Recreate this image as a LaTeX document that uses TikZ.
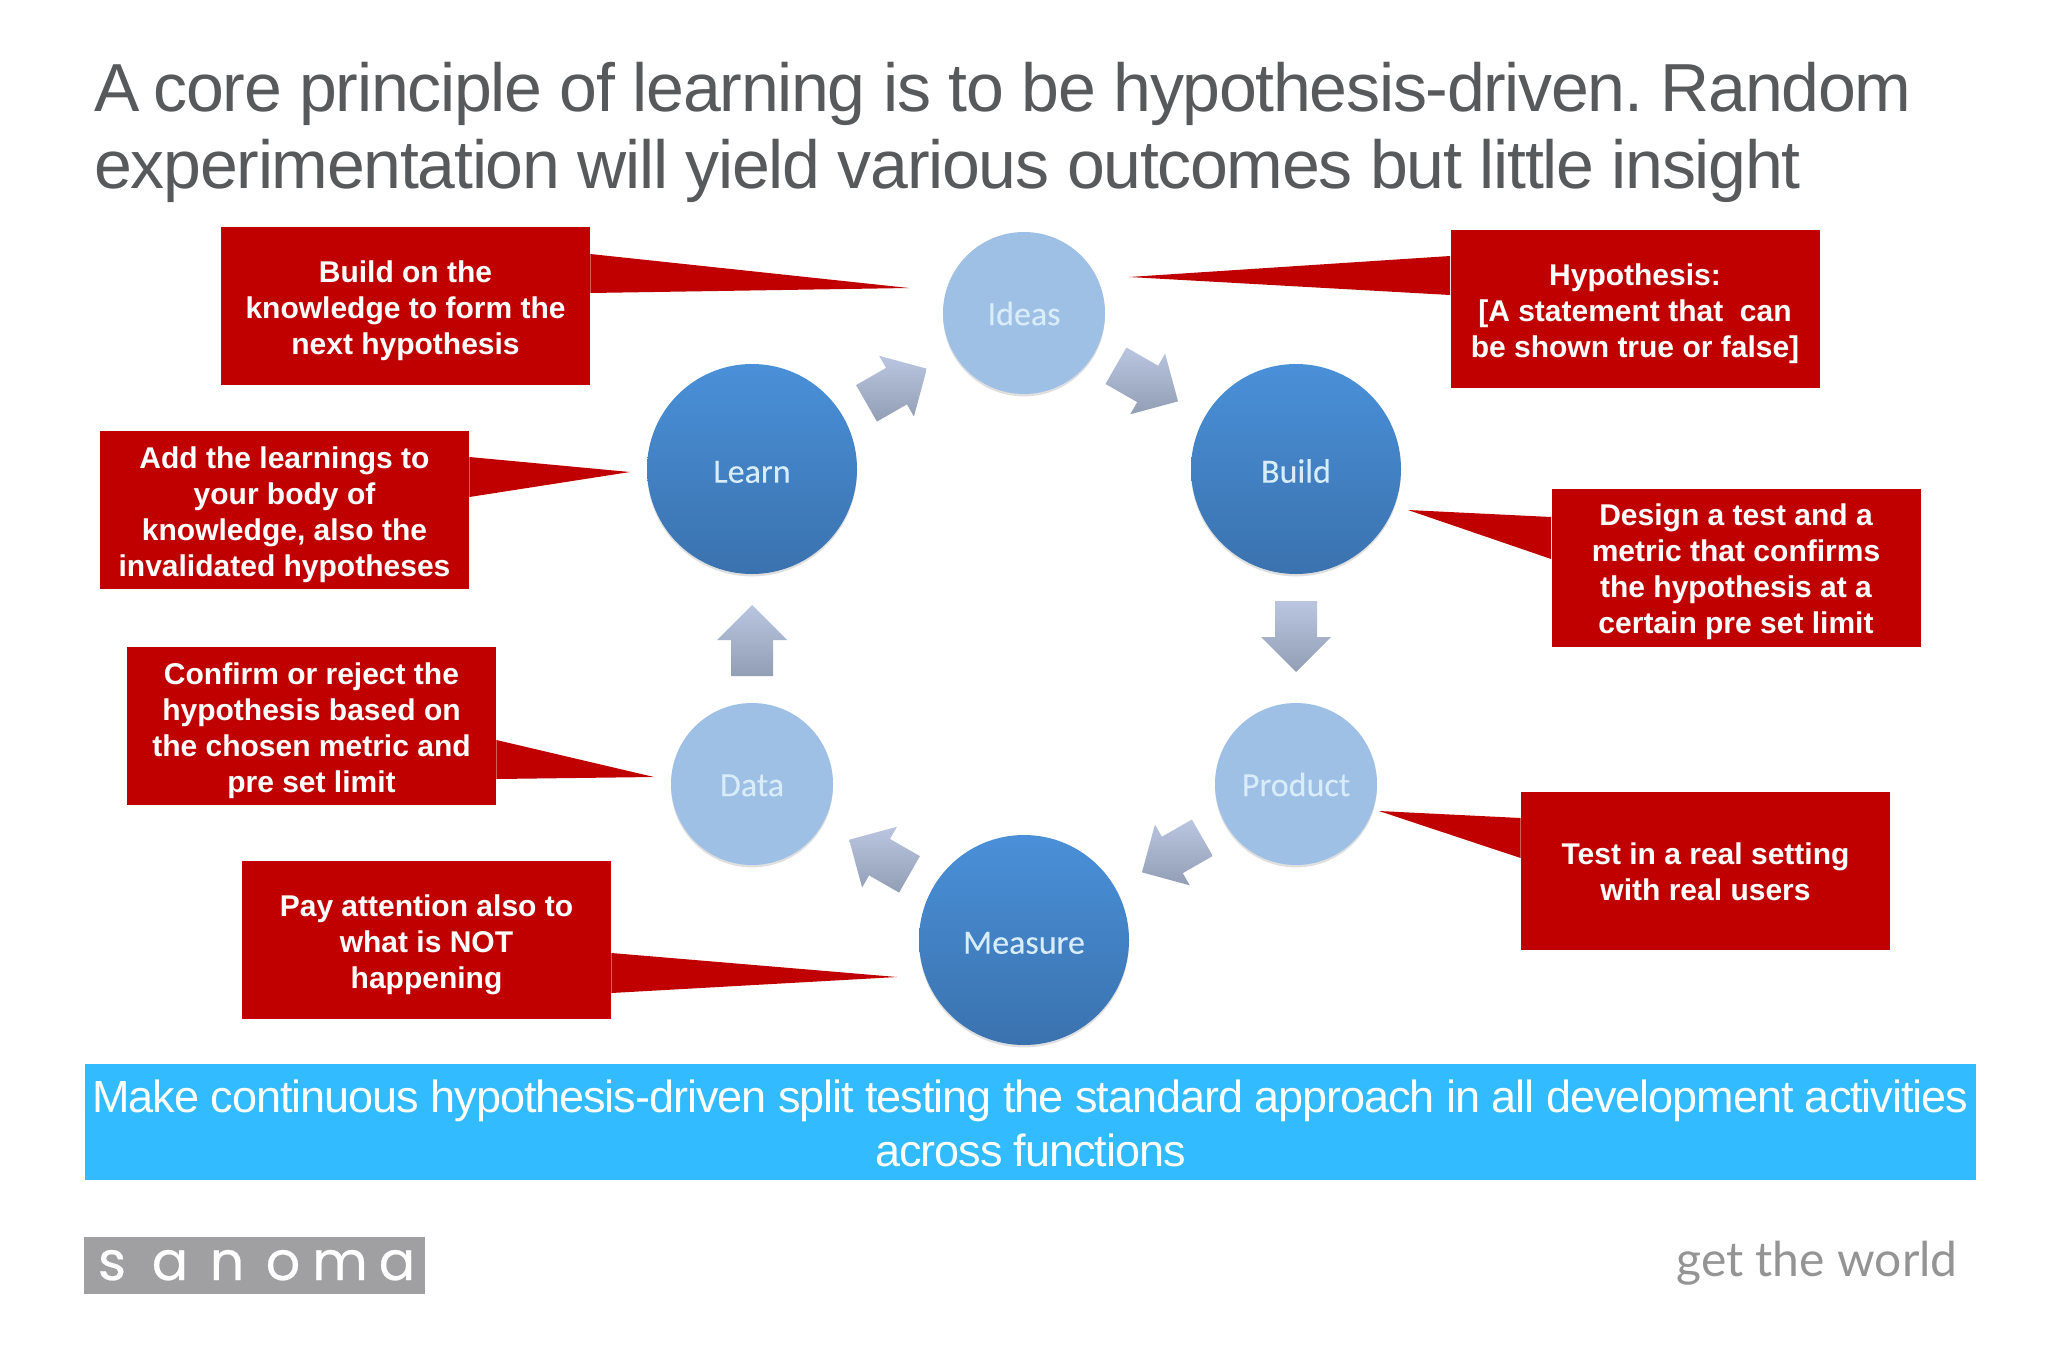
\documentclass[tikz,border=0pt]{standalone}
\usepackage{fontspec}
\setmainfont{Liberation Sans}
\newfontfamily\circfont[FakeBold=0.15]{Carlito}
\newfontfamily\logofont[FakeBold=0.4]{Poppins}
\newfontfamily\tagfont{Lato}
\usetikzlibrary{calc,shadows}
\definecolor{calloutred}{HTML}{C00000}
\definecolor{titlegrey}{HTML}{58595B}
\definecolor{barblue}{HTML}{33BBFF}
\definecolor{darktop}{HTML}{4A90D8}
\definecolor{darkbot}{HTML}{3A72AE}
\definecolor{lightfill}{HTML}{9FC0E5}
\definecolor{arrowtop}{HTML}{BAC6E0}
\definecolor{arrowbot}{HTML}{929EB4}
\definecolor{logogrey}{HTML}{A0A0A2}
\definecolor{circtext}{HTML}{D8ECFA}
\tikzset{
  bigcirc/.style={circle,minimum size=105pt,inner sep=0pt,top color=darktop,bottom color=darkbot,
    drop shadow={shadow xshift=0pt,shadow yshift=-1.2pt,opacity=.25,fill=gray},
    text=circtext,text height=14pt,text depth=0.3pt,font=\circfont\fontsize{17}{20}\selectfont},
  smallcirc/.style={circle,minimum size=81pt,inner sep=0pt,fill=lightfill,
    drop shadow={shadow xshift=0pt,shadow yshift=-1.2pt,opacity=.25,fill=gray},
    text=circtext,text height=12.5pt,text depth=0.3pt,font=\circfont\fontsize{17}{20}\selectfont},
  callout/.style={rectangle,fill=calloutred,text=white,minimum width=184.5pt,minimum height=79pt,
    inner sep=0pt,align=center,font=\fontsize{15}{18}\selectfont\bfseries},
  pointer/.style={fill=calloutred},
  blockarrow/.style={top color=arrowtop,bottom color=arrowbot,draw=none},
  logoletter/.style={text=white,inner sep=0pt,anchor=base,font=\logofont\fontsize{27}{27}\selectfont}
}
% vertical struts that even out the callout text block
\newcommand{\calltop}{\rule{0pt}{16pt}}
\newcommand{\callbot}{\rule[-4pt]{0pt}{4pt}}
% block arrow from node #1 to node #3; #2, #4 = clearances from the node centres
\newcommand{\blockarrowdraw}[4]{%
  \coordinate (T) at ($(#1)!#2!(#3)$);
  \coordinate (H) at ($(#3)!#4!(#1)$);
  \coordinate (S) at ($(H)!17.5pt!(T)$);
  \shade[blockarrow]
    ($(T)!10.5pt!90:(H)$) -- ($(S)!10.5pt!-90:(T)$) -- ($(S)!17.5pt!-90:(T)$) -- (H)
    -- ($(S)!17.5pt!90:(T)$) -- ($(S)!10.5pt!90:(T)$) -- ($(T)!10.5pt!-90:(H)$) -- cycle;
}
\begin{document}
\frenchspacing
\begin{tikzpicture}[x=0.5pt,y=-0.5pt]
\useasboundingbox (0,0) rectangle (2048,1365);
\fill[white] (0,0) rectangle (2048,1365);

\node[anchor=north west,inner sep=0pt,align=left,text=titlegrey,
      font=\fontsize{34}{38.5}\selectfont\addfontfeatures{LetterSpace=-1.9}] (title) at (94,62)
  {A\kern-2pt{} core principle of learning is to be hypothesis-driven. Random\\experimentation will yield various outcomes but little insight};

% cycle nodes
\node[smallcirc] (ideas) at (1024,313) {Ideas};
\node[bigcirc] (build) at (1296,469) {Build};
\node[smallcirc] (product) at (1296,784) {Product};
\node[bigcirc] (measure) at (1024,940) {Measure};
\node[smallcirc] (data) at (752,784) {Data};
\node[bigcirc] (learn) at (752,469) {Learn};

% block arrows
\blockarrowdraw{ideas}{53pt}{build}{68pt}
\blockarrowdraw{build}{66pt}{product}{56pt}
\blockarrowdraw{product}{54pt}{measure}{68pt}
\blockarrowdraw{measure}{66pt}{data}{56pt}
\blockarrowdraw{data}{54pt}{learn}{68pt}
\blockarrowdraw{learn}{66pt}{ideas}{56pt}

% callouts
\node[callout] (c1) at (405.5,306) {\calltop Build on the\\knowledge to form the\\next hypothesis\callbot};
\node[callout] (c2) at (1635,309) {\calltop Hypothesis:\\{}[A statement that\ \ can\\be shown true or false]\callbot};
\node[callout] (c3) at (284.5,510) {\calltop Add the learnings to\\your body of\\knowledge, also the\\invalidated hypotheses\callbot};
\node[callout] (c4) at (1736,567.5) {\calltop Design a test and a\\metric that confirms\\the hypothesis at a\\certain pre set limit\callbot};
\node[callout] (c5) at (311.5,726) {\calltop Confirm or reject the\\hypothesis based on\\the chosen metric and\\pre set limit\callbot};
\node[callout] (c6) at (1705.5,870.5) {\calltop Test in a real setting\\with real users\callbot};
\node[callout] (c7) at (426.5,940) {\calltop Pay attention also to\\what is NOT\\happening\callbot};

\coordinate (t1) at (909,288);
\coordinate (t2) at (1129,277);
\coordinate (t3) at (630,472);
\coordinate (t4) at (1408,510);
\coordinate (t5) at (654,777);
\coordinate (t6) at (1379,811);
\coordinate (t7) at (897,977);
\fill[pointer] (c1.east |- 0,254) -- (t1) -- (c1.east |- 0,293) -- cycle;
\fill[pointer] (c2.west |- 0,256) -- (t2) -- (c2.west |- 0,295) -- cycle;
\fill[pointer] (c3.east |- 0,457) -- (t3) -- (c3.east |- 0,497) -- cycle;
\fill[pointer] (c4.west |- 0,517) -- (t4) -- (c4.west |- 0,559) -- cycle;
\fill[pointer] (c5.east |- 0,740) -- (t5) -- (c5.east |- 0,779) -- cycle;
\fill[pointer] (c6.west |- 0,818) -- (t6) -- (c6.west |- 0,858) -- cycle;
\fill[pointer] (c7.east |- 0,953) -- (t7) -- (c7.east |- 0,993) -- cycle;

% banner
\node[rectangle,fill=barblue,text=white,minimum width=945.5pt,minimum height=58pt,inner sep=0pt,
      align=center,font=\fontsize{22.5}{27}\selectfont\addfontfeatures{LetterSpace=-2.3}] (banner) at (1030.5,1122)
  {\rule{0pt}{18pt}Make continuous hypothesis-driven split testing the standard approach in all development activities\\across functions};

% footer
\node[rectangle,fill=logogrey,minimum width=170.5pt,minimum height=28.5pt,inner sep=0pt] (logo) at (254.5,1265.5) {};
\node[logoletter] (l1) at (112,1280) {s};
\node[logoletter] (l2) at (170,1280) {a};
\node[logoletter] (l3) at (227,1280) {n};
\node[logoletter] (l4) at (283,1280) {o};
\node[logoletter] (l5) at (340,1280) {m};
\node[logoletter] (l6) at (397,1280) {a};
\node[anchor=base east,inner sep=0pt,text=black!42,font=\tagfont\fontsize{24}{24}\selectfont] (tag) at (1958,1276) {get the world};
\end{tikzpicture}
\end{document}
